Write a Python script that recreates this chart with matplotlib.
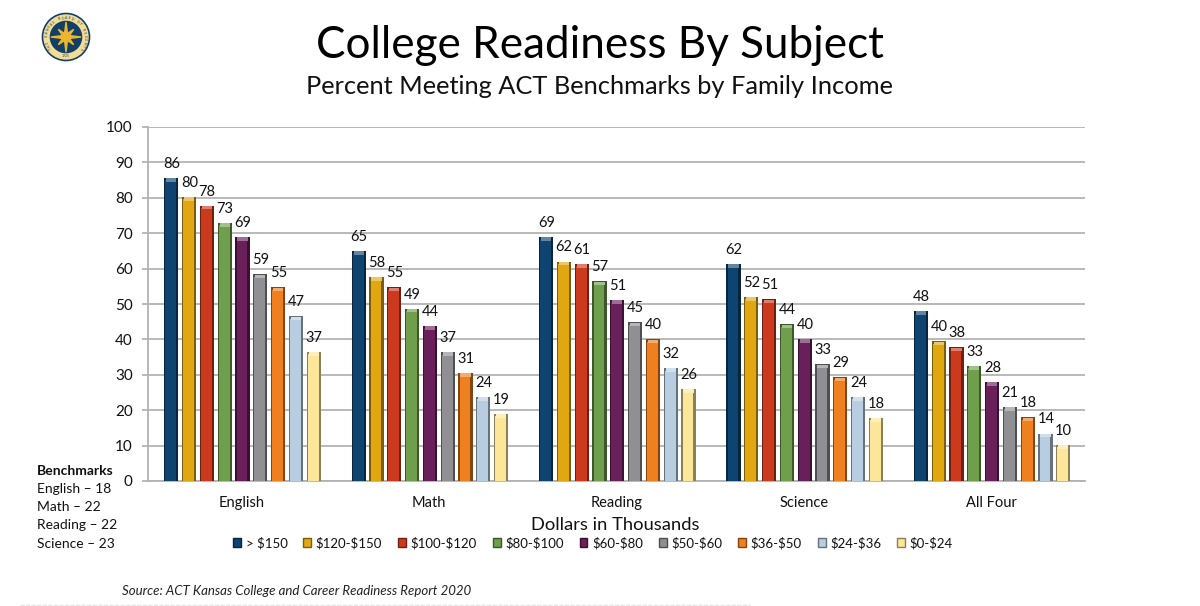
import numpy as np
import matplotlib
matplotlib.use("Agg")
import matplotlib.pyplot as plt
from matplotlib.patches import Circle, Polygon, Patch
from matplotlib.colors import to_rgb

plt.rcParams['font.family'] = ['Lato', 'DejaVu Sans']
plt.rcParams['text.parse_math'] = False

subjects = ["English", "Math", "Reading", "Science", "All Four"]
income_bands = ["> $150", "$120-$150", "$100-$120", "$80-$100", "$60-$80",
                "$50-$60", "$36-$50", "$24-$36", "$0-$24"]
band_colors = ["#0f4470", "#e0a710", "#cc3a1e", "#6f9e4c", "#691f59",
               "#8f8f94", "#ee8020", "#b8cde0", "#fbe69a"]

above_150 = [85.7, 65.0, 69.0, 61.4, 48.0]
from_120 = [80.3, 57.6, 62.0, 52.0, 39.5]
from_100 = [77.8, 54.7, 61.3, 51.3, 37.8]
from_80 = [72.9, 48.7, 56.4, 44.3, 32.5]
from_60 = [69.0, 43.8, 51.2, 40.2, 28.0]
from_50 = [58.4, 36.4, 44.8, 33.0, 21.0]
from_36 = [54.7, 30.6, 40.0, 29.3, 18.0]
from_24 = [46.5, 23.8, 31.9, 23.8, 13.4]
from_0 = [36.5, 19.0, 26.0, 17.8, 10.2]
series = [above_150, from_120, from_100, from_80, from_60, from_50, from_36, from_24, from_0]

labels_by_band = [
    [86, 65, 69, 62, 48], [80, 58, 62, 52, 40], [78, 55, 61, 51, 38],
    [73, 49, 57, 44, 33], [69, 44, 51, 40, 28], [59, 37, 45, 33, 21],
    [55, 31, 40, 29, 18], [47, 24, 32, 24, 14], [37, 19, 26, 18, 10],
]
benchmarks = ["English – 18", "Math – 22", "Reading – 22", "Science – 23"]

W, H = 1200, 606
fig = plt.figure(figsize=(W / 100, H / 100), dpi=100, facecolor="white")
ax = fig.add_axes([148 / W, 1 - 481 / H, (1085 - 148) / W, (481 - 127) / H])


def shade(c, f):
    r = np.array(to_rgb(c))
    return tuple(r * f) if f <= 1 else tuple(r + (1 - r) * (f - 1))


x = np.arange(len(subjects))
step, width = 0.095, 0.076
for i, (vals, col, labs) in enumerate(zip(series, band_colors, labels_by_band)):
    pos = x + (i - 4) * step + 0.004
    v = np.array(vals)
    ax.bar(pos, v, width, color=shade(col, 0.55), zorder=3)
    ax.bar(pos - width * 0.03, v - 0.7, width * 0.76, color=col, zorder=4)
    ax.bar(pos, np.full_like(v, 1.0), width * 0.72, bottom=v - 1.1,
           color=shade(col, 1.35), zorder=5)
    for p, h, t in zip(pos, v, labs):
        ax.text(p + 0.002, h + 2.0, str(t), ha="center", va="bottom", fontsize=10.5,
                color="#111111", zorder=6)

ax.set_xlim(-0.5, len(subjects) - 0.5)
ax.set_ylim(0, 100)
ax.set_yticks(np.arange(0, 101, 10))
ax.set_xticks(x, subjects)
ax.tick_params(axis="y", length=4, width=1.3, color="#b3b3b3", labelsize=11, pad=7,
               labelcolor="#111111")
ax.tick_params(axis="x", length=0, labelsize=10.5, pad=10.5, labelcolor="#111111")
ax.grid(axis="y", color="#b3b3b3", linewidth=1.3, zorder=0)
ax.set_axisbelow(True)
for s in ("top", "right"):
    ax.spines[s].set_visible(False)
for s in ("left", "bottom"):
    ax.spines[s].set_color("#b3b3b3")
    ax.spines[s].set_linewidth(1.3)

fig.text(600 / W, 1 - 45 / H, "College Readiness By Subject", ha="center", va="center",
         fontsize=31.7, color="#000000")
fig.text(600 / W, 1 - 87 / H, "Percent Meeting ACT Benchmarks by Family Income", ha="center",
         va="center", fontsize=18.3, color="#111111")
fig.text(615 / W, 1 - 525 / H, "Dollars in Thousands", ha="center", va="center", fontsize=13.2,
         color="#111111")

handles = [Patch(facecolor=c, edgecolor=shade(c, 0.55), linewidth=1.0) for c in band_colors]
fig.legend(handles, income_bands, ncol=9, loc="center", bbox_to_anchor=(593 / W, 1 - 543 / H),
           frameon=False, fontsize=9.5, handlelength=0.6, handleheight=0.6,
           handletextpad=0.35, columnspacing=1.2, borderpad=0, labelcolor="#111111")

fig.text(37 / W, 1 - 471 / H, "Benchmarks", fontsize=10, fontweight="bold", va="center",
         color="#111111")
for k, line in enumerate(benchmarks):
    fig.text(37 / W, 1 - (489 + k * 18.2) / H, line, fontsize=10, va="center", color="#111111")

fig.text(122 / W, 1 - 591 / H, "Source: ACT Kansas College and Career Readiness Report 2020",
         fontsize=9.5, style="italic", va="center", color="#222222")
fig.add_artist(plt.Line2D([20 / W, 750 / W], [1 - 604.5 / H] * 2, color="#e2e2e2", lw=1.0,
                          linestyle=(0, (3, 1))))

# Seal
logo = fig.add_axes([40 / W, 1 - 63 / H, 52 / W, 52 / H])
logo.set_xlim(-1.1, 1.1)
logo.set_ylim(-1.1, 1.1)
logo.set_aspect("equal")
logo.axis("off")
logo.add_patch(Circle((0, 0), 1.0, color="#123f66"))
logo.add_patch(Circle((0, 0), 0.93, color="#f3dc95"))
logo.add_patch(Circle((0, 0), 0.66, color="#123f66"))
angles = np.deg2rad(np.arange(0, 360, 22.5) + 90)
radii = np.where(np.arange(16) % 2 == 0, 0.64, 0.16)
radii[2::4] = 0.46
logo.add_patch(Polygon(np.c_[radii * np.cos(angles), radii * np.sin(angles)], color="#eeb62e"))
seal_text = "THE KANSAS BOARD OF REGENTS"
for a, ch in zip(np.linspace(215, -35, len(seal_text)), seal_text):
    logo.text(0.8 * np.cos(np.deg2rad(a)), 0.8 * np.sin(np.deg2rad(a)), ch, fontsize=2.4,
              rotation=a - 90, ha="center", va="center", color="#123f66")
logo.text(0, -0.8, "1925", fontsize=2.4, ha="center", va="center", color="#123f66")

fig.savefig("out.png", dpi=100)
